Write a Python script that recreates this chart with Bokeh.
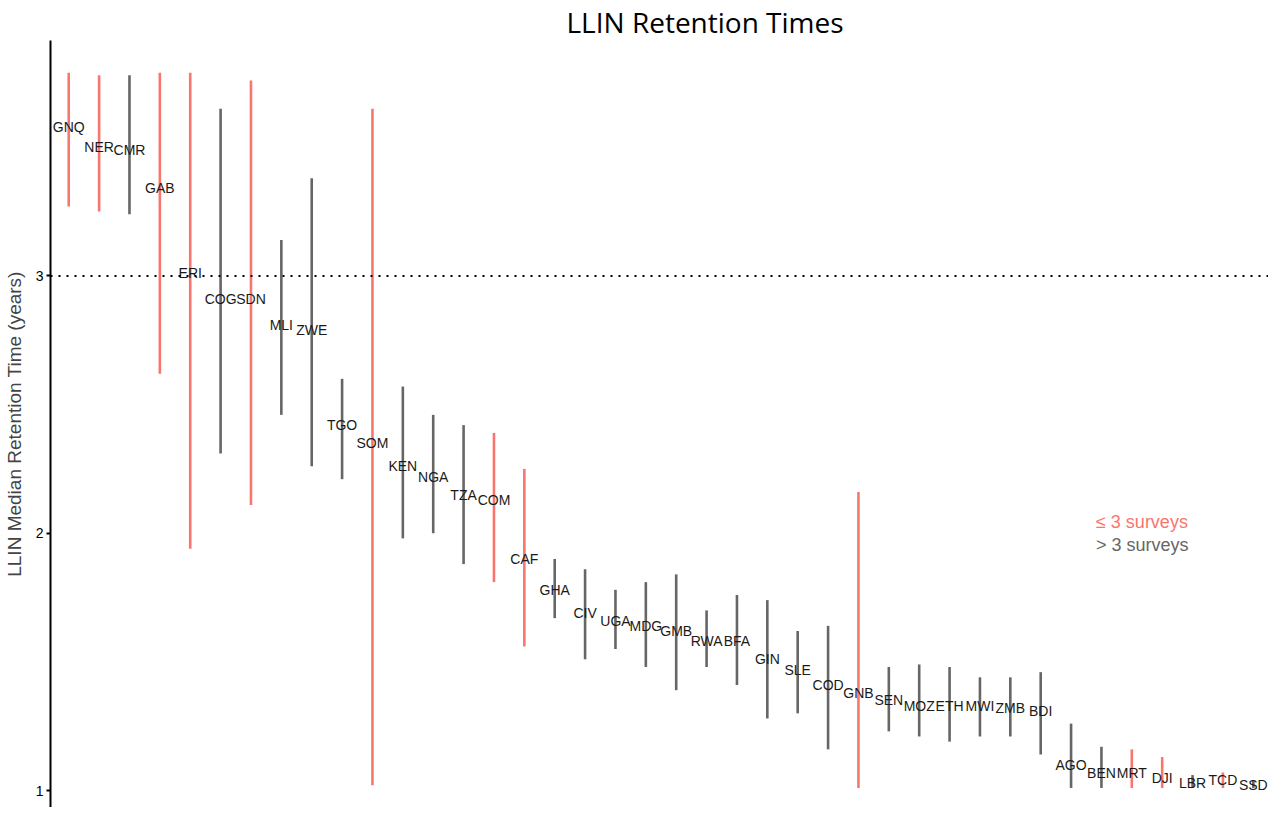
import numpy as np
from bokeh.plotting import figure
from bokeh.models import ColumnDataSource, Span, Label, Range1d, FixedTicker, CategoricalColorMapper
from bokeh.core.properties import value
from bokeh.embed import file_html
from bokeh.resources import INLINE

countries = ["GNQ", "NER", "CMR", "GAB", "ERI", "COG", "SDN", "MLI", "ZWE", "TGO",
             "SOM", "KEN", "NGA", "TZA", "COM", "CAF", "GHA", "CIV", "UGA", "MDG",
             "GMB", "RWA", "BFA", "GIN", "SLE", "COD", "GNB", "SEN", "MOZ", "ETH",
             "MWI", "ZMB", "BDI", "AGO", "BEN", "MRT", "DJI", "LBR", "TCD", "SSD"]
median = [3.58, 3.50, 3.49, 3.34, 3.01, 2.91, 2.91, 2.81, 2.79, 2.42,
          2.35, 2.26, 2.22, 2.15, 2.13, 1.90, 1.78, 1.69, 1.66, 1.64,
          1.62, 1.58, 1.58, 1.51, 1.47, 1.41, 1.38, 1.35, 1.33, 1.33,
          1.33, 1.32, 1.31, 1.10, 1.07, 1.07, 1.05, 1.03, 1.04, 1.02]
lower = [3.27, 3.25, 3.24, 2.62, 1.94, 2.31, 2.11, 2.46, 2.26, 2.21,
         1.02, 1.98, 2.00, 1.88, 1.81, 1.56, 1.67, 1.51, 1.55, 1.48,
         1.39, 1.48, 1.41, 1.28, 1.30, 1.16, 1.01, 1.23, 1.21, 1.19,
         1.21, 1.21, 1.14, 1.01, 1.01, 1.01, 1.01, 1.01, 1.01, 1.01]
upper = [3.79, 3.78, 3.78, 3.79, 3.79, 3.65, 3.76, 3.14, 3.38, 2.60,
         3.65, 2.57, 2.46, 2.42, 2.39, 2.25, 1.90, 1.86, 1.78, 1.81,
         1.84, 1.70, 1.76, 1.74, 1.62, 1.64, 2.16, 1.48, 1.49, 1.48,
         1.44, 1.44, 1.46, 1.26, 1.17, 1.16, 1.13, 1.06, 1.07, 1.04]
survey_group = ["few", "few", "many", "few", "few", "many", "few", "many", "many", "many",
                "few", "many", "many", "many", "few", "few", "many", "many", "many", "many",
                "many", "many", "many", "many", "many", "many", "few", "many", "many", "many",
                "many", "many", "many", "many", "many", "few", "few", "many", "few", "many"]
group_names = ["few", "many"]
group_labels = ["\u2264 3 surveys", "> 3 surveys"]
group_colors = ["#F8766D", "#666666"]
threshold = 3
y_ticks = [1, 2, 3]

src = ColumnDataSource(dict(
    x=list(range(1, len(countries) + 1)),
    country=countries, median=median, lower=lower, upper=upper, group=survey_group,
))
cmap = CategoricalColorMapper(factors=group_names, palette=group_colors)

p = figure(width=1268, height=807, output_backend="svg", toolbar_location=None,
           x_axis_location=None,
           x_range=Range1d(0.4, 40.5), y_range=Range1d(0.934, 3.915),
           min_border_left=47, min_border_right=0, min_border_top=29, min_border_bottom=0)

p.segment(x0="x", y0="lower", x1="x", y1="upper", source=src,
          line_color={"field": "group", "transform": cmap}, line_width=2.6)
p.text(x="x", y="median", text="country", source=src,
       text_align="center", text_baseline="middle",
       text_font=value("Liberation Sans"), text_font_size="14px", text_color="#1a1a1a")

p.add_layout(Span(location=threshold, dimension="width", line_color="black",
                  line_width=2, line_dash="2 6"))

p.add_layout(Label(x=34.82, y=2.043, text=group_labels[0], text_color=group_colors[0],
                   text_font="Liberation Sans", text_font_size="18px", text_baseline="middle"))
p.add_layout(Label(x=34.82, y=1.956, text=group_labels[1], text_color=group_colors[1],
                   text_font="Liberation Sans", text_font_size="18px", text_baseline="middle"))

p.title.text = "LLIN Retention Times"
p.title.text_font = "Open Sans"
p.title.text_font_size = "28px"
p.title.text_font_style = "normal"
p.title.align = "left"
p.title.offset = 516
p.title.standoff = 0
p.title.text_color = "black"

p.yaxis.ticker = FixedTicker(ticks=y_ticks)
p.yaxis.axis_label = "LLIN Median Retention Time (years)"
p.yaxis.axis_label_text_font = "Liberation Sans"
p.yaxis.axis_label_text_font_size = "19px"
p.yaxis.axis_label_text_font_style = "normal"
p.yaxis.axis_label_standoff = 8
p.yaxis.major_label_text_font = "Liberation Sans"
p.yaxis.major_label_text_font_size = "14px"
p.yaxis.major_label_text_color = "black"
p.yaxis.axis_line_width = 2
p.yaxis.axis_line_color = "black"
p.yaxis.major_tick_in = 0
p.yaxis.major_tick_out = 4
p.yaxis.major_tick_line_width = 2
p.yaxis.minor_tick_line_color = None
p.yaxis.major_label_standoff = 3

p.grid.visible = False
p.outline_line_color = None
p.background_fill_color = "white"
p.border_fill_color = "white"

open("out.html", "w").write(file_html(p, INLINE))
